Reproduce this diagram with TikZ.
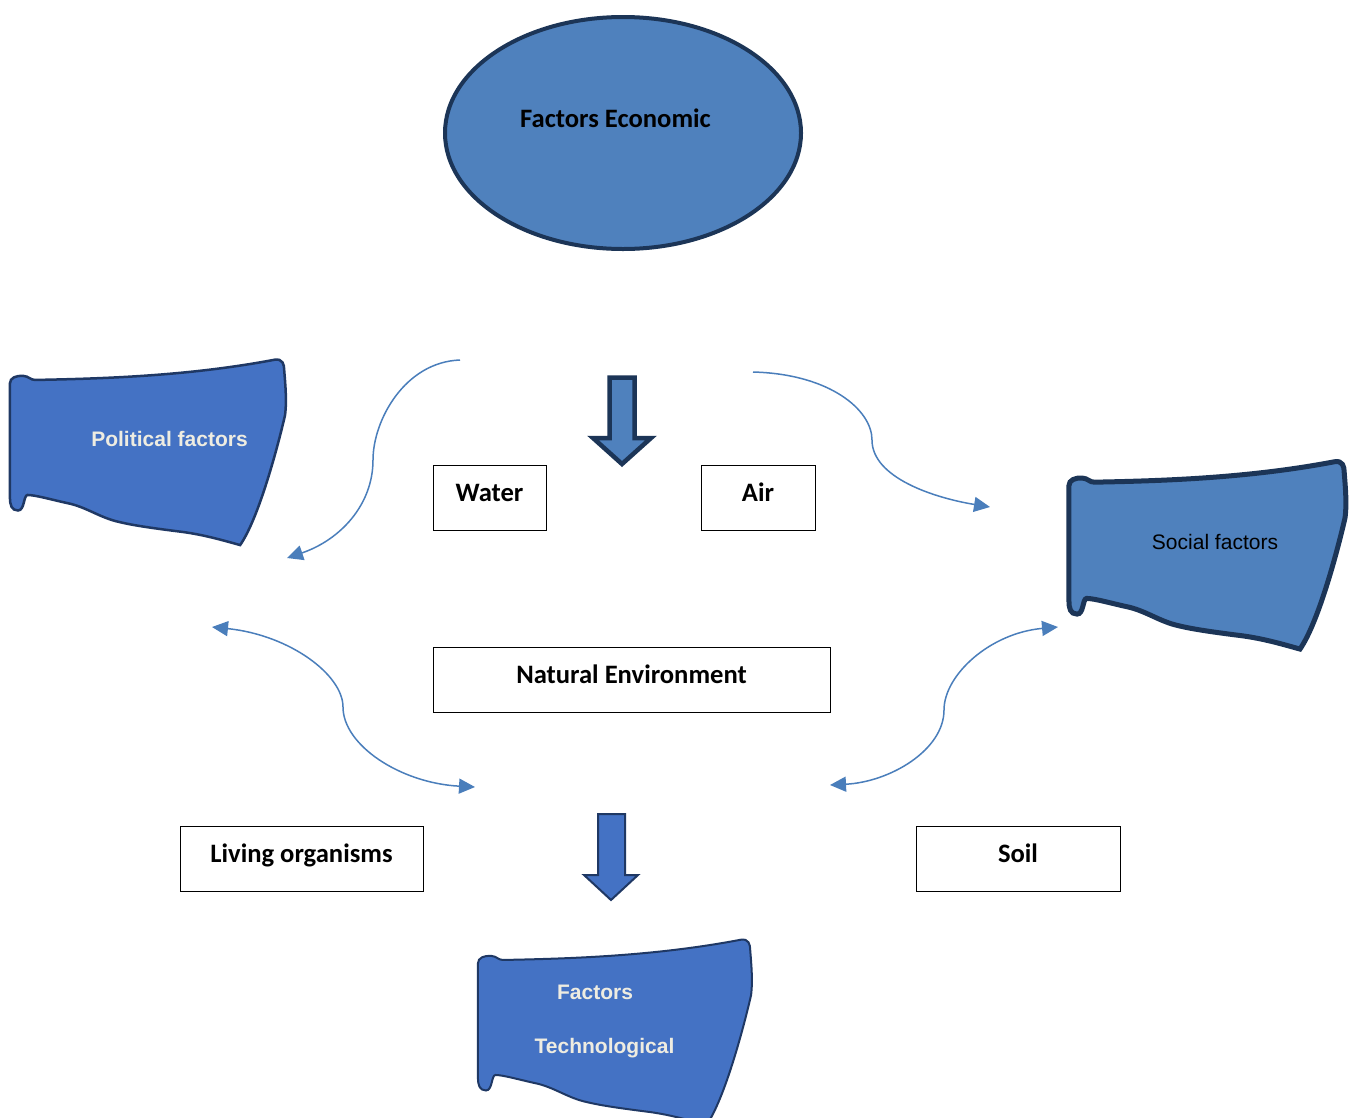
\documentclass[tikz,border=0pt]{standalone}
\usepackage{fontspec}
\setmainfont{Carlito}
\newfontfamily\arialfont{Liberation Sans}
\usetikzlibrary{arrows.meta,shapes.geometric}
\definecolor{acc1}{HTML}{4F81BD}
\definecolor{acc2}{HTML}{4472C4}
\definecolor{navy}{HTML}{1C3557}
\definecolor{navy2}{HTML}{1F3864}
\definecolor{conncol}{HTML}{4A7EBB}
\definecolor{lighttxt}{HTML}{EEECE1}
\newcommand\drawwave[5]{%
\begin{scope}[shift={(#1,#2)},xscale=#3,yscale=#4]
\filldraw[#5] (0.007,0.13) .. controls (0.007,0.10) and (0.03,0.088) .. (0.054,0.09)
 .. controls (0.075,0.092) and (0.08,0.112) .. (0.097,0.112)
 .. controls (0.35,0.105) and (0.65,0.09) .. (0.955,0.004)
 .. controls (0.985,-0.004) and (0.99,0.03) .. (0.99,0.06)
 .. controls (0.993,0.12) and (1.0,0.22) .. (0.993,0.3)
 .. controls (0.97,0.45) and (0.90,0.85) .. (0.832,0.995)
 .. controls (0.76,0.965) and (0.70,0.94) .. (0.627,0.925)
 .. controls (0.52,0.905) and (0.45,0.89) .. (0.40,0.872)
 .. controls (0.33,0.85) and (0.28,0.79) .. (0.211,0.77)
 .. controls (0.15,0.75) and (0.1,0.728) .. (0.07,0.727)
 .. controls (0.055,0.73) and (0.06,0.81) .. (0.036,0.81)
 .. controls (0.012,0.81) and (0.007,0.78) .. (0.007,0.74)
 -- cycle;
\end{scope}}
\begin{document}
\begin{tikzpicture}[x=1pt,y=-1pt,
  envbox/.style={draw=black, line width=1pt, inner sep=0pt, outer sep=0pt,
    text height=17pt, text depth=10pt, minimum height=65pt,
    font=\bfseries\fontsize{26.6}{30}\selectfont},
  boldlbl/.style={anchor=base, inner sep=0pt, font=\bfseries\fontsize{26.6}{30}\selectfont},
  wavelbl/.style={anchor=base, inner sep=0pt, font=\arialfont\bfseries\fontsize{21}{25}\selectfont, text=lighttxt},
  conn/.style={draw=conncol, line width=1.5pt},
  tipA/.style={-{Triangle[length=16pt,width=15pt]}},
  tipB/.style={{Triangle[length=16pt,width=15pt]}-{Triangle[length=16pt,width=15pt]}}
]
\clip (0,0) rectangle (1354,1117);
\fill[white] (0,0) rectangle (1354,1117);

% ellipse
\node[ellipse, draw=navy, line width=4pt, fill=acc1, minimum width=356pt,
  minimum height=232pt, inner sep=0pt] (econ) at (623,133) {};
\node[boldlbl] (econlbl) at (615.5,127) {Factors Economic};

% block arrows
\filldraw[fill=acc1, draw=navy, line width=4.5pt, line join=miter]
  (609.5,377.5) -- (634.5,377.5) -- (634.5,438) -- (651,438) -- (622,464)
  -- (593,438) -- (609.5,438) -- cycle;
\filldraw[fill=acc2, draw=navy2, line width=2pt, line join=miter]
  (598,814) -- (625,814) -- (625,875) -- (638,875) -- (611,900)
  -- (584,875) -- (598,875) -- cycle;

% wave shapes
\drawwave{8}{359}{279}{187}{fill=acc2, draw=navy2, line width=2.5pt}
\drawwave{1067}{461}{280}{189}{fill=acc1, draw=navy, line width=5pt}
\drawwave{476}{939}{277}{187}{fill=acc2, draw=navy2, line width=2pt}

\node[wavelbl] (political) at (169.5,446) {Political factors};
\node[anchor=base, inner sep=0pt, font=\arialfont\fontsize{21}{25}\selectfont] (social) at (1215,549) {Social factors};
\node[wavelbl] (techA) at (595,999) {Factors};
\node[wavelbl] (techB) at (604.5,1053) {Technological};

% boxes
\node[envbox, minimum width=113pt] (water) at (489.5,497.5) {Water};
\node[envbox, minimum width=114pt] (air) at (758,497.5) {Air};
\node[envbox, minimum width=397pt] (natural) at (631.5,679.5) {Natural Environment};
\node[envbox, minimum width=243pt] (living) at (301.5,858.5) {Living organisms};
\node[envbox, minimum width=204pt] (soil) at (1018,858.5) {Soil};

% curved connectors
\coordinate (a1s) at (460,360);
\coordinate (a1e) at (287,558);
\coordinate (a2s) at (753,372);
\coordinate (a2e) at (990,507);
\coordinate (a3s) at (212,627);
\coordinate (a3e) at (475,787);
\coordinate (a4s) at (1058,627);
\coordinate (a4e) at (830,785);

\draw[conn, tipA] (a1s) .. controls (405,362) and (373,420) .. (373,460)
  .. controls (373,505) and (340,540) .. (a1e);
\draw[conn, tipA] (a2s) .. controls (830,374) and (872,410) .. (872,440)
  .. controls (872,478) and (935,498) .. (a2e);
\draw[conn, tipB] (a3s) .. controls (290,635) and (343,675) .. (343,707)
  .. controls (343,745) and (400,783) .. (a3e);
\draw[conn, tipB] (a4s) .. controls (990,633) and (944,675) .. (944,710)
  .. controls (944,750) and (890,782) .. (a4e);
\end{tikzpicture}
\end{document}
